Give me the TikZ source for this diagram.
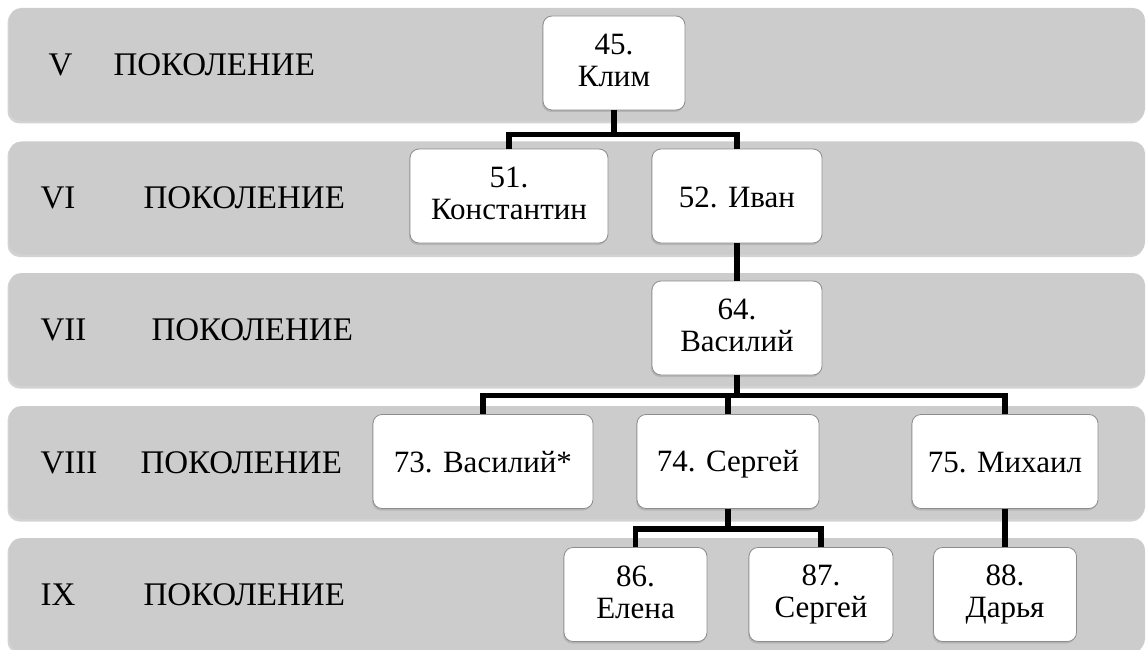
\documentclass[tikz,border=0pt]{standalone}
\usepackage{fontspec}
\setmainfont{Liberation Serif}
\usetikzlibrary{shadows}
\newcommand\namestrut{\rule[-5pt]{0pt}{32pt}}

\begin{document}
\begin{tikzpicture}[
    x=1pt, y=-1pt,
    band/.style={fill=black!20, rounded corners=12pt, minimum width=1136pt, minimum height=113pt, drop shadow={shadow xshift=-1.5pt, shadow yshift=-2.5pt, opacity=0.35}},
    gen/.style={anchor=west, font=\fontsize{33}{36}\selectfont},
    person/.style={draw=black!45, line width=0.8pt, fill=white, rounded corners=9pt, minimum height=94pt, align=center, font=\fontsize{31}{32}\selectfont, execute at begin node=\namestrut, execute at end node=\namestrut, drop shadow={shadow xshift=-1pt, shadow yshift=-2pt, opacity=0.3}},
    link/.style={line width=5.5pt, draw=black}
]
\useasboundingbox (0,0) rectangle (1148,650);

% generation bands
\node[band] (g5) at (577,64.5) {};
\node[band] (g6) at (577,198) {};
\node[band] (g7) at (577,329.5) {};
\node[band] (g8) at (577,462.5) {};
\node[band] (g9) at (577,594.5) {};

\node[gen] (r5) at (45,64.5) {V};
\node[gen] (w5) at (110,64.5) {ПОКОЛЕНИЕ};
\node[gen] (r6) at (37,198) {VI};
\node[gen] (w6) at (140,198) {ПОКОЛЕНИЕ};
\node[gen] (r7) at (37,329.5) {VII};
\node[gen] (w7) at (148,329.5) {ПОКОЛЕНИЕ};
\node[gen] (r8) at (37,462.5) {VIII};
\node[gen] (w8) at (137,462.5) {ПОКОЛЕНИЕ};
\node[gen] (r9) at (37,594.5) {IX};
\node[gen] (w9) at (140,594.5) {ПОКОЛЕНИЕ};

% persons
\node[person, minimum width=142pt] (p45) at (614,63) {45.\\Клим};
\node[person, minimum width=198pt] (p51) at (509,196) {51.\\Константин};
\node[person, minimum width=170pt] (p52) at (737,196) {52. Иван};
\node[person, minimum width=170pt] (p64) at (737,328) {64.\\Василий};
\node[person, minimum width=220pt] (p73) at (483,461.5) {73. Василий*};
\node[person, minimum width=182pt] (p74) at (728,461.5) {74. Сергей};
\node[person, minimum width=186pt] (p75) at (1005,461.5) {75. Михаил};
\node[person, minimum width=143pt] (p86) at (635.5,594.5) {86.\\Елена};
\node[person, minimum width=144pt] (p87) at (821,594.5) {87.\\Сергей};
\node[person, minimum width=143pt] (p88) at (1005,594.5) {88.\\Дарья};

\draw[link] (p45.south) -- ++(0,24) -| (p51.north);
\draw[link] (p45.south) -- ++(0,24) -| (p52.north);
\draw[link] (p52) -- (p64);
\draw[link] (p64.south) -- ++(0,20) -| (p73.north);
\draw[link] (p64.south) -- ++(0,20) -| (p74.north);
\draw[link] (p64.south) -- ++(0,20) -| (p75.north);
\draw[link] (p74.south) -- ++(0,20) -| (p86.north);
\draw[link] (p74.south) -- ++(0,20) -| (p87.north);
\draw[link] (p75) -- (p88);
\end{tikzpicture}
\end{document}
